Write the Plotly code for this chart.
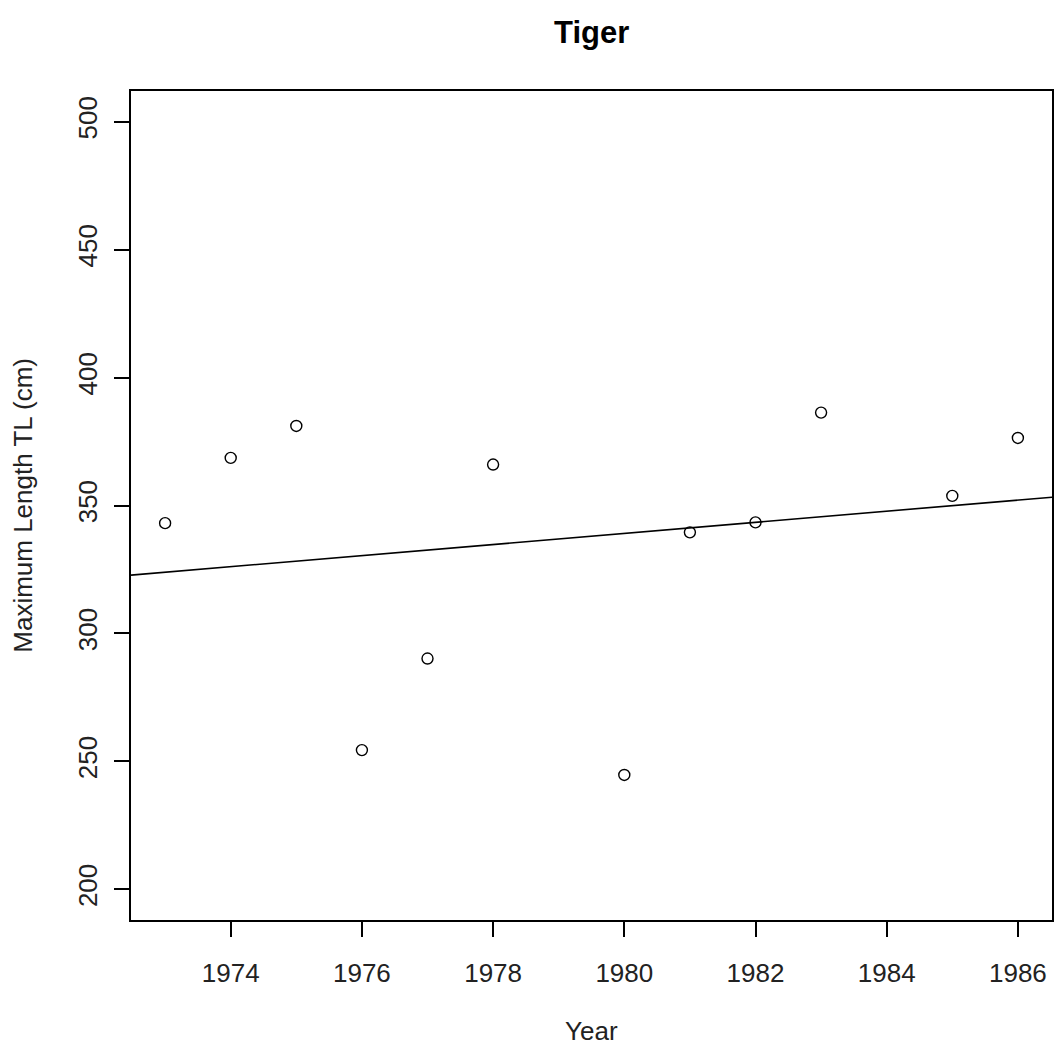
import numpy as np
import plotly.graph_objects as go

years = [1973, 1974, 1975, 1976, 1977, 1978, 1980, 1981, 1982, 1983, 1985, 1986]
max_length = [343.1, 368.6, 381.1, 254.4, 290.2, 366.0, 244.7, 339.5, 343.4, 386.3, 353.75, 376.4]

x_ticks = [1974, 1976, 1978, 1980, 1982, 1984, 1986]
y_ticks = [200, 250, 300, 350, 400, 450, 500]

title_text = "Tiger"
x_title = "Year"
y_title = "Maximum Length TL (cm)"

x_range = [1972.48, 1986.52]
y_range = [188, 512]

# least-squares fit line (like abline(lm(...)))
slope, intercept = np.polyfit(years, max_length, 1)
fit_x = np.array(x_range)
fit_y = intercept + slope * fit_x

W, H = 1055, 1048
ml, mr, mt, mb = 131, 1, 91, 128
ph = H - mt - mb
pw = W - ml - mr

FONT = "Liberation Sans, Arial, sans-serif"

fig = go.Figure()
fig.add_trace(go.Scatter(
    x=years, y=max_length, mode="markers",
    marker=dict(symbol="circle-open", size=11, color="black", line=dict(width=1.4, color="black")),
    showlegend=False, hoverinfo="x+y",
))
fig.add_trace(go.Scatter(
    x=fit_x, y=fit_y, mode="lines",
    line=dict(color="black", width=1.6),
    showlegend=False, hoverinfo="skip",
))

fig.update_layout(
    width=W, height=H,
    margin=dict(l=ml, r=mr, t=mt, b=mb, pad=0),
    paper_bgcolor="white", plot_bgcolor="white",
    font=dict(family=FONT, size=26, color="black"),
    xaxis=dict(
        range=x_range, tickvals=x_ticks, ticktext=[str(v) for v in x_ticks],
        showgrid=False, zeroline=False, showline=True, mirror=True,
        linecolor="black", linewidth=1.5,
        ticks="outside", ticklen=15, tickwidth=1.5, tickcolor="black",
        tickfont=dict(size=26, color="#222"), ticklabelstandoff=14,
    ),
    yaxis=dict(
        range=y_range, tickvals=y_ticks, ticktext=[str(v) for v in y_ticks],
        showgrid=False, zeroline=False, showline=True, mirror=True,
        linecolor="black", linewidth=1.5,
        ticks="outside", ticklen=15, tickwidth=1.5, tickcolor="black",
        tickangle=-90, tickfont=dict(size=26, color="#222"), ticklabelstandoff=7,
    ),
    annotations=[
        dict(text="<b>%s</b>" % title_text, xref="paper", yref="paper",
             x=0.5, y=1 + (mt - 32) / ph, xanchor="center", yanchor="middle",
             showarrow=False, font=dict(size=31, color="black", family=FONT)),
        dict(text=x_title, xref="paper", yref="paper",
             x=0.5, y=-(1031 - (mt + ph)) / ph, xanchor="center", yanchor="middle",
             showarrow=False, font=dict(size=26, color="#222", family=FONT)),
        dict(text=y_title, xref="paper", yref="paper", textangle=-90,
             x=-(ml - 22) / pw, y=0.5, xanchor="center", yanchor="middle",
             showarrow=False, font=dict(size=26, color="#222", family=FONT)),
    ],
)

fig.write_html("out.html", config={"displayModeBar": False},
               post_script="document.body.style.margin='0';")
